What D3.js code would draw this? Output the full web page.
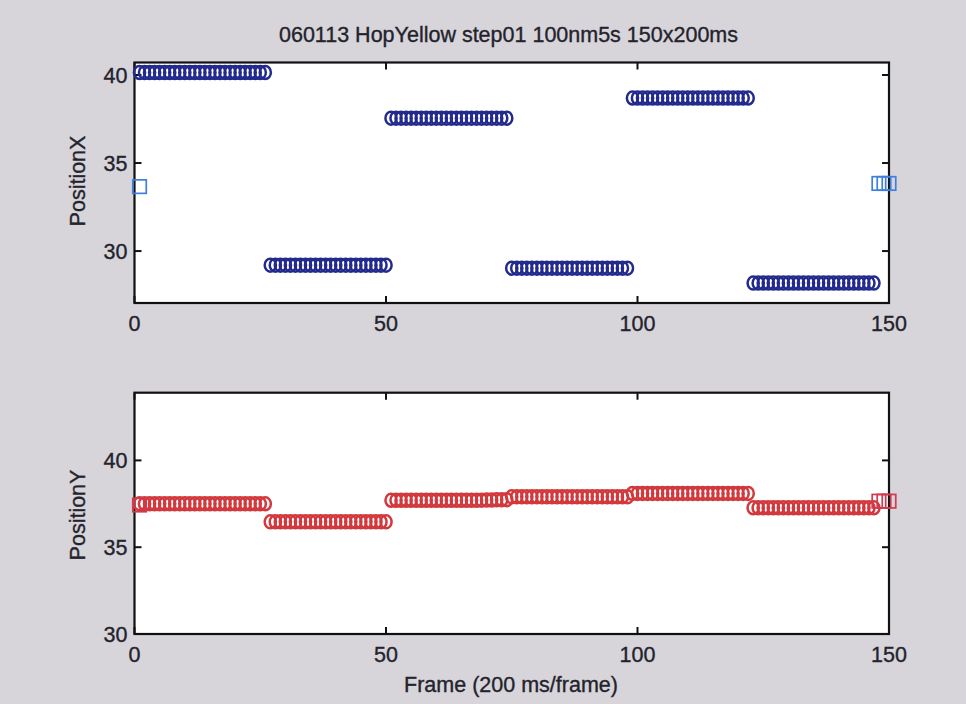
<!DOCTYPE html>
<html><head><meta charset="utf-8">
<script src="https://cdn.jsdelivr.net/npm/d3@7/dist/d3.min.js"></script>
<style>
body{margin:0;background:#d7d4da;}
text{font-family:"Liberation Sans",Arial,Helvetica,sans-serif;fill:#23232c;stroke:#23232c;stroke-width:0.35px;}
</style></head>
<body><svg id="c" width="966" height="704"></svg>
<script>
const title = "060113 HopYellow step01 100nm5s 150x200ms";
const xLabel = "Frame (200 ms/frame)";
const yLabelTop = "PositionX";
const yLabelBottom = "PositionY";
const xTicks = [0, 50, 100, 150];
const yTicksTop = [30, 35, 40];
const yTicksBottom = [30, 35, 40];

// Fitted positions, frames 1..147 (circles), 6 values per line
const posX = [
  // frames 1-26
  40.14,40.14,40.14,40.14,40.14,40.14,
  40.14,40.14,40.14,40.14,40.14,40.14,
  40.14,40.14,40.14,40.14,40.14,40.14,
  40.14,40.14,40.14,40.14,40.14,40.14,
  40.14,40.14,
  // frames 27-50
  29.2,29.2,29.2,29.2,29.2,29.2,
  29.2,29.2,29.2,29.2,29.2,29.2,
  29.2,29.2,29.2,29.2,29.2,29.2,
  29.2,29.2,29.2,29.2,29.2,29.2,
  // frames 51-74
  37.55,37.55,37.55,37.55,37.55,37.55,
  37.55,37.55,37.55,37.55,37.55,37.55,
  37.55,37.55,37.55,37.55,37.55,37.55,
  37.55,37.55,37.55,37.55,37.55,37.55,
  // frames 75-98
  29.03,29.03,29.03,29.03,29.03,29.03,
  29.03,29.03,29.03,29.03,29.03,29.03,
  29.03,29.03,29.03,29.03,29.03,29.03,
  29.03,29.03,29.03,29.03,29.03,29.03,
  // frames 99-122
  38.69,38.69,38.69,38.69,38.69,38.69,
  38.69,38.69,38.69,38.69,38.69,38.69,
  38.69,38.69,38.69,38.69,38.69,38.69,
  38.69,38.69,38.69,38.69,38.69,38.69,
  // frames 123-147
  28.18,28.18,28.18,28.18,28.18,28.18,
  28.18,28.18,28.18,28.18,28.18,28.18,
  28.18,28.18,28.18,28.18,28.18,28.18,
  28.18,28.18,28.18,28.18,28.18,28.18,
  28.18
];
const posY = [
  // frames 1-26
  37.5,37.5,37.5,37.5,37.5,37.5,
  37.5,37.5,37.5,37.5,37.5,37.5,
  37.5,37.5,37.5,37.5,37.5,37.5,
  37.5,37.5,37.5,37.5,37.5,37.5,
  37.5,37.5,
  // frames 27-50
  36.46,36.46,36.46,36.46,36.46,36.46,
  36.46,36.46,36.46,36.46,36.46,36.46,
  36.46,36.46,36.46,36.46,36.46,36.46,
  36.46,36.46,36.46,36.46,36.46,36.46,
  // frames 51-74
  37.7,37.7,37.7,37.7,37.7,37.7,
  37.7,37.7,37.7,37.7,37.7,37.7,
  37.7,37.7,37.7,37.7,37.7,37.7,
  37.71,37.72,37.72,37.73,37.73,37.74,
  // frames 75-98
  37.9,37.9,37.9,37.9,37.9,37.9,
  37.9,37.9,37.9,37.9,37.9,37.9,
  37.9,37.9,37.9,37.9,37.9,37.9,
  37.9,37.9,37.9,37.9,37.9,37.9,
  // frames 99-122
  38.1,38.1,38.1,38.1,38.1,38.1,
  38.1,38.1,38.1,38.1,38.1,38.1,
  38.1,38.1,38.1,38.1,38.1,38.1,
  38.1,38.1,38.1,38.1,38.1,38.1,
  // frames 123-147
  37.27,37.27,37.27,37.27,37.27,37.27,
  37.27,37.27,37.27,37.27,37.27,37.27,
  37.27,37.27,37.27,37.27,37.27,37.27,
  37.27,37.27,37.27,37.27,37.27,37.27,
  37.27
];
// Unfitted frames (squares)
const squareFrames = [1, 148, 149, 150];
const squareX = [33.66, 33.84, 33.84, 33.84];
const squareY = [37.43, 37.65, 37.65, 37.65];

const svg = d3.select("#c");
svg.append("rect").attr("width",966).attr("height",704).attr("fill","#d7d4da");

const left = 134.5, right = 889;
const x = d3.scaleLinear().domain([0,150]).range([left,right]);

function panel(top, bottom, yDomain, yTicks, circVals, sqVals, circColor, sqColor, yLab, yLabY) {
  const y = d3.scaleLinear().domain(yDomain).range([bottom, top]);
  const g = svg.append("g");
  g.append("rect").attr("x",left).attr("y",top).attr("width",right-left).attr("height",bottom-top)
    .attr("fill","#fff").attr("stroke","#111").attr("stroke-width",2.2);
  const tl = 7;
  xTicks.forEach(t=>{
    g.append("line").attr("x1",x(t)).attr("x2",x(t)).attr("y1",bottom).attr("y2",bottom-tl).attr("stroke","#111").attr("stroke-width",2);
    g.append("line").attr("x1",x(t)).attr("x2",x(t)).attr("y1",top).attr("y2",top+tl).attr("stroke","#111").attr("stroke-width",2);
    g.append("text").attr("x",x(t)).attr("y",bottom+28).attr("text-anchor","middle")
      .attr("font-size",21.5).text(t);
  });
  yTicks.forEach(t=>{
    g.append("line").attr("x1",left).attr("x2",left+tl).attr("y1",y(t)).attr("y2",y(t)).attr("stroke","#111").attr("stroke-width",2);
    g.append("line").attr("x1",right).attr("x2",right-tl).attr("y1",y(t)).attr("y2",y(t)).attr("stroke","#111").attr("stroke-width",2);
    g.append("text").attr("x",left-7).attr("y",y(t)).attr("dy","0.36em").attr("text-anchor","end")
      .attr("font-size",21.5).text(t);
  });
  g.append("text").attr("transform",`translate(77,${yLabY}) rotate(-90)`).attr("dy","0.36em")
    .attr("text-anchor","middle").attr("font-size",21.5).text(yLab);
  g.append("g").selectAll("ellipse").data(circVals).join("ellipse")
    .attr("cx",(d,i)=>x(i+1)).attr("cy",d=>y(d)).attr("rx",5.6).attr("ry",6.5)
    .attr("fill","none").attr("stroke",circColor).attr("stroke-width",2.5);
  const s = 13.5;
  g.append("g").selectAll("rect").data(sqVals).join("rect")
    .attr("x",(d,i)=>x(squareFrames[i])-s/2).attr("y",d=>y(d)-s/2).attr("width",s).attr("height",s)
    .attr("fill","none").attr("stroke",sqColor).attr("stroke-width",1.7);
  return y;
}

panel(62.5, 303, [27.05, 40.71], yTicksTop, posX, squareX, "#232a8e", "#3f80dc", yLabelTop, 181);
panel(392.7, 634, [30, 43.9], yTicksBottom, posY, squareY, "#d2383c", "#d03a4e", yLabelBottom, 515);

svg.append("text").attr("x",508.5).attr("y",41.5).attr("text-anchor","middle").attr("font-size",21.5).text(title);
svg.append("text").attr("x",511).attr("y",692).attr("text-anchor","middle").attr("font-size",21.5).text(xLabel);
</script></body></html>
